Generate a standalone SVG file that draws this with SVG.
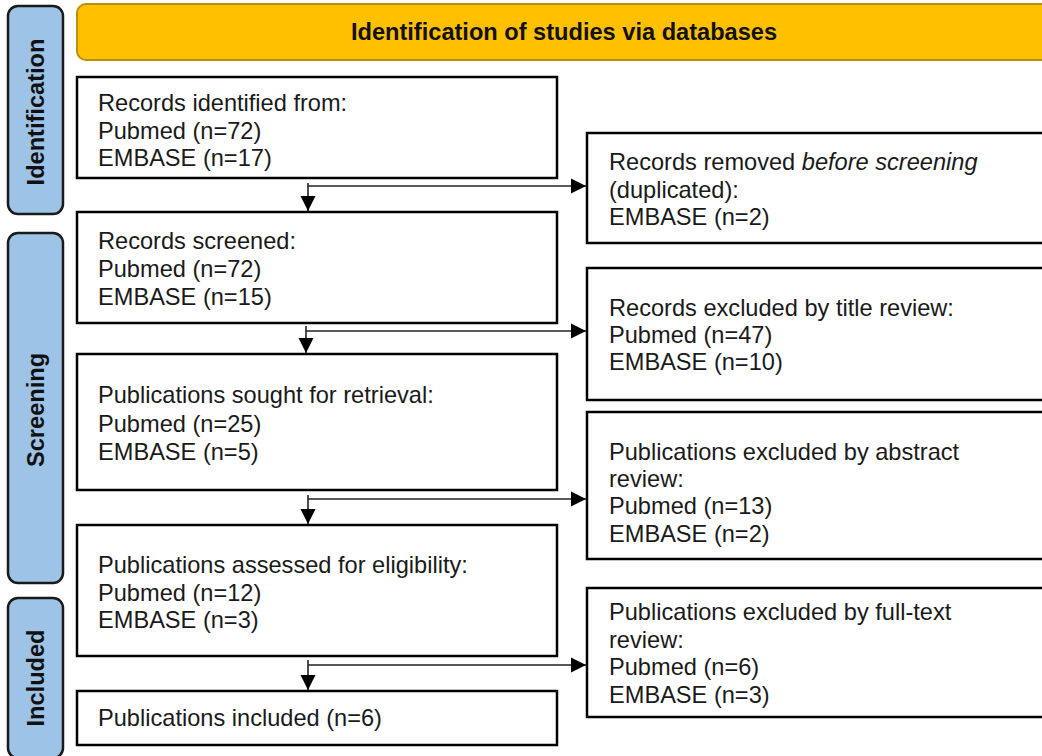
<svg xmlns="http://www.w3.org/2000/svg" width="1042" height="756" viewBox="0 0 1042 756">
<style>
.box{fill:#fff;stroke:#000;stroke-width:2.5}
.side{fill:#9DC3E6;stroke:#1a1a1a;stroke-width:2.5}
.hdr{fill:#FFC000;stroke:#B8900A;stroke-width:2}
.t{font-family:"Liberation Sans",Arial,sans-serif;font-size:23.6px;fill:#1a1a1a}
.b{font-family:"Liberation Sans",Arial,sans-serif;font-size:23.6px;font-weight:bold;fill:#111}
.ln{stroke:#222;stroke-width:1.6;fill:none}
</style>
<defs>
<marker id="ah" markerUnits="userSpaceOnUse" markerWidth="16" markerHeight="16" viewBox="0 0 16 16" refX="15" refY="8" orient="auto">
<path d="M0,0.5 L15,8 L0,15.5 Z" fill="#000"/>
</marker>
</defs>

<g id="header">
<rect class="hdr" x="77" y="4" width="990" height="56" rx="9"/>
<text class="b" x="564" y="40" text-anchor="middle">Identification of studies via databases</text>
</g>

<g id="side-identification">
<rect class="side" x="8" y="6" width="55" height="208" rx="10"/>
<text class="b" transform="translate(44,112) rotate(-90)" text-anchor="middle">Identification</text>
</g>
<g id="side-screening">
<rect class="side" x="8" y="233" width="55" height="350" rx="10"/>
<text class="b" transform="translate(44,410) rotate(-90)" text-anchor="middle">Screening</text>
</g>
<g id="side-included">
<rect class="side" x="8" y="598" width="55" height="160" rx="10"/>
<text class="b" transform="translate(44,678) rotate(-90)" text-anchor="middle">Included</text>
</g>

<g id="n-identified">
<rect class="box" x="77" y="77" width="480" height="101"/>
<text class="t" x="98" y="111">Records identified from:</text>
<text class="t" x="98" y="139">Pubmed (n=72)</text>
<text class="t" x="98" y="166">EMBASE (n=17)</text>
</g>
<g id="n-screened">
<rect class="box" x="77" y="212" width="480" height="111"/>
<text class="t" x="98" y="249">Records screened:</text>
<text class="t" x="98" y="277">Pubmed (n=72)</text>
<text class="t" x="98" y="305">EMBASE (n=15)</text>
</g>
<g id="n-sought">
<rect class="box" x="77" y="354" width="480" height="136"/>
<text class="t" x="98" y="403">Publications sought for retrieval:</text>
<text class="t" x="98" y="432">Pubmed (n=25)</text>
<text class="t" x="98" y="460">EMBASE (n=5)</text>
</g>
<g id="n-assessed">
<rect class="box" x="77" y="525" width="480" height="131"/>
<text class="t" x="98" y="573">Publications assessed for eligibility:</text>
<text class="t" x="98" y="601">Pubmed (n=12)</text>
<text class="t" x="98" y="628">EMBASE (n=3)</text>
</g>
<g id="n-included">
<rect class="box" x="77" y="691" width="480" height="54"/>
<text class="t" x="98" y="726">Publications included (n=6)</text>
</g>

<g id="n-removed">
<rect class="box" x="587" y="133" width="480" height="110"/>
<text class="t" x="609" y="170">Records removed <tspan font-style="italic">before screening</tspan></text>
<text class="t" x="609" y="198">(duplicated):</text>
<text class="t" x="609" y="225">EMBASE (n=2)</text>
</g>
<g id="n-excl-title">
<rect class="box" x="587" y="268" width="480" height="132"/>
<text class="t" x="609" y="316">Records excluded by title review:</text>
<text class="t" x="609" y="343">Pubmed (n=47)</text>
<text class="t" x="609" y="370">EMBASE (n=10)</text>
</g>
<g id="n-excl-abstract">
<rect class="box" x="587" y="412" width="480" height="147"/>
<text class="t" x="609" y="460">Publications excluded by abstract</text>
<text class="t" x="609" y="487">review:</text>
<text class="t" x="609" y="514">Pubmed (n=13)</text>
<text class="t" x="609" y="542">EMBASE (n=2)</text>
</g>
<g id="n-excl-fulltext">
<rect class="box" x="587" y="588" width="480" height="129"/>
<text class="t" x="609" y="620">Publications excluded by full-text</text>
<text class="t" x="609" y="648">review:</text>
<text class="t" x="609" y="675">Pubmed (n=6)</text>
<text class="t" x="609" y="703">EMBASE (n=3)</text>
</g>

<g id="connectors">
<path class="ln" d="M308,183 V211" marker-end="url(#ah)"/>
<path class="ln" d="M308,186 H586" marker-end="url(#ah)"/>
<path class="ln" d="M306,326 V353" marker-end="url(#ah)"/>
<path class="ln" d="M306,331 H586" marker-end="url(#ah)"/>
<path class="ln" d="M308,495 V524" marker-end="url(#ah)"/>
<path class="ln" d="M308,499 H586" marker-end="url(#ah)"/>
<path class="ln" d="M308,660 V690" marker-end="url(#ah)"/>
<path class="ln" d="M308,665 H586" marker-end="url(#ah)"/>
</g>
</svg>
